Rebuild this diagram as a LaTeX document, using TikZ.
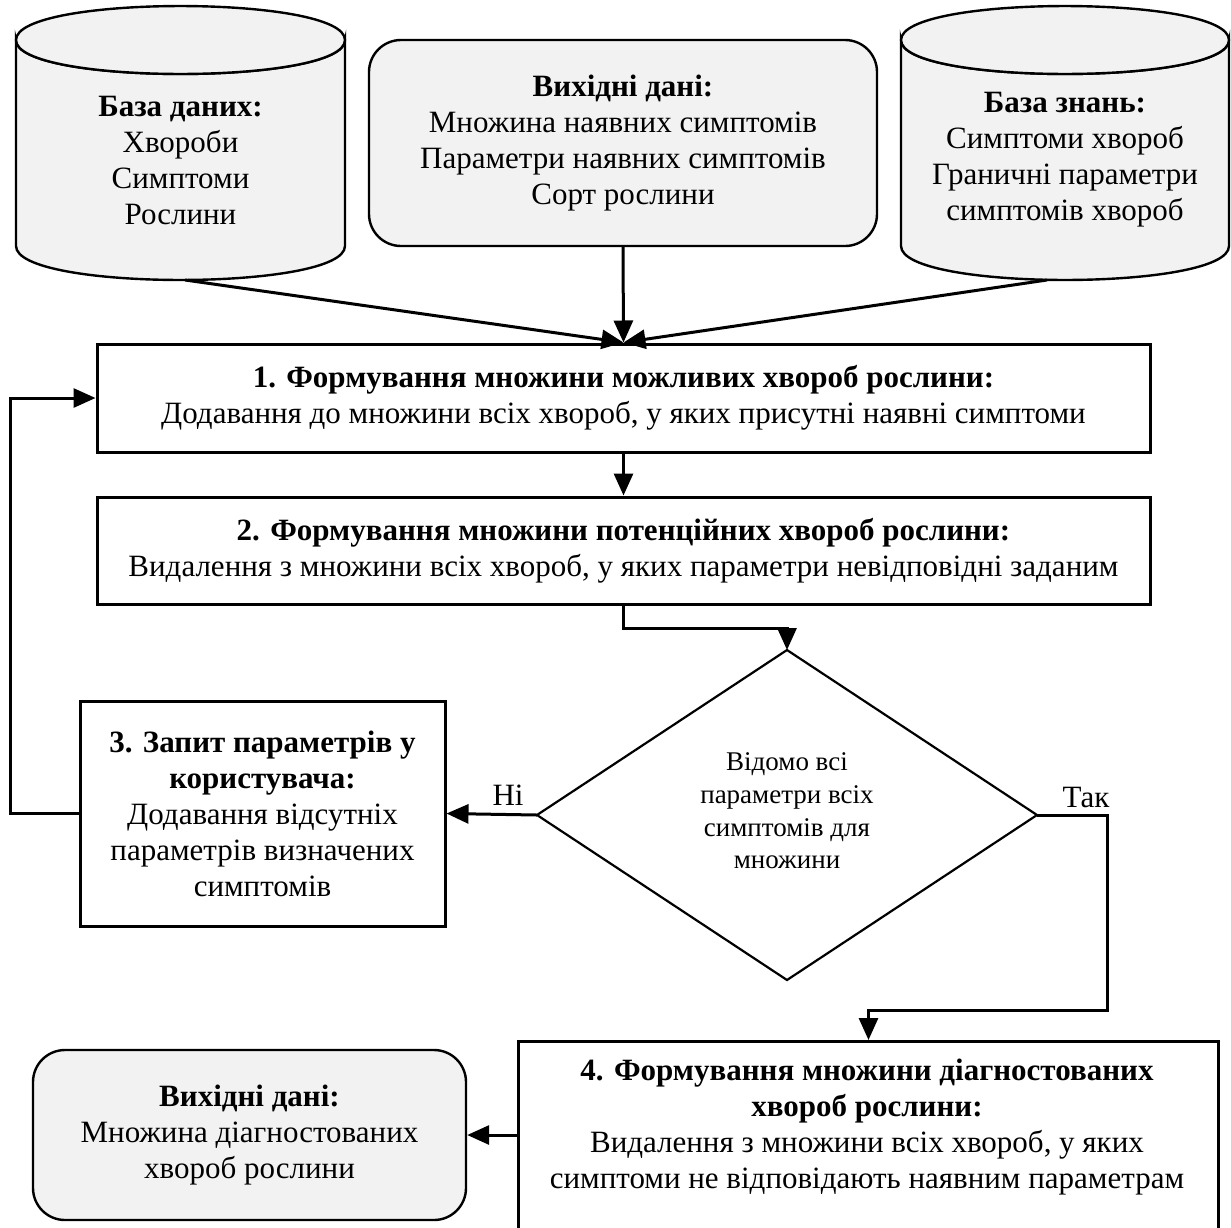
\documentclass[tikz,border=0pt]{standalone}
\usepackage{fontspec}
\setmainfont{Liberation Serif}
\usetikzlibrary{arrows.meta,calc}
\definecolor{boxgray}{HTML}{F2F2F2}
\begin{document}
\begin{tikzpicture}[x=0.5pt,y=-0.5pt,
  every node/.style={font=\fontsize{15.5}{18}\selectfont, align=center, inner sep=0pt},
  procbox/.style={draw, line width=1.5pt, rectangle, fill=white},
  roundbox/.style={draw, line width=1.2pt, rounded corners=16pt, fill=boxgray},
  cylshape/.style={draw, line width=1.2pt, fill=boxgray},
  arr/.style={line width=1.5pt, -{Triangle[length=11pt,width=9.5pt]}},
  lbl/.style={font=\fontsize{15.5}{18}\selectfont}
]
\useasboundingbox (0,0) rectangle (1231,1227);
\clip (0,0) rectangle (1231,1227);

% Cylinder 1
\path[cylshape] (16,40) -- (16,246) .. controls (16,291.3) and (345,291.3) .. (345,246) -- (345,40)
  .. controls (345,85.3) and (16,85.3) .. (16,40) -- cycle;
\path[cylshape] (16,40) .. controls (16,-5.3) and (345,-5.3) .. (345,40)
  .. controls (345,85.3) and (16,85.3) .. (16,40) -- cycle;
\node (cyl1) at (180.5,160) {\textbf{База даних:}\\Хвороби\\Симптоми\\Рослини};
\coordinate (cyl1b) at (185,280);

% Cylinder 2
\path[cylshape] (901,40) -- (901,246) .. controls (901,291.3) and (1229,291.3) .. (1229,246) -- (1229,40)
  .. controls (1229,85.3) and (901,85.3) .. (901,40) -- cycle;
\path[cylshape] (901,40) .. controls (901,-5.3) and (1229,-5.3) .. (1229,40)
  .. controls (1229,85.3) and (901,85.3) .. (901,40) -- cycle;
\node (cyl2) at (1065,160) {\textbf{База знань:}\\Симптоми хвороб\\Граничні параметри\\симптомів хвороб};
\coordinate (cyl2b) at (1047,280);

% Input box
\node[roundbox, minimum width=254pt, minimum height=103pt] (inbox) at (623,143)
  {\textbf{Вихідні дані:}\\Множина наявних симптомів\\Параметри наявних симптомів\\Сорт рослини};

% Box 1
\node[procbox, minimum width=526.5pt, minimum height=54pt] (box1) at (623.5,398)
  {\textbf{1. Формування множини можливих хвороб рослини:}\\Додавання до множини всіх хвороб, у яких присутні наявні симптоми};

% Box 2
\node[procbox, minimum width=526.5pt, minimum height=53.5pt] (box2) at (623.5,550.5)
  {\textbf{2. Формування множини потенційних хвороб рослини:}\\Видалення з множини всіх хвороб, у яких параметри невідповідні заданим};

% Diamond
\coordinate (dT) at (787,650);
\coordinate (dR) at (1037,815);
\coordinate (dB) at (787,980);
\coordinate (dL) at (537,815);
\draw[line width=1.1pt] (dT) -- (dR) -- (dB) -- (dL) -- cycle;
\node[font=\fontsize{13.5}{16.3}\selectfont] (dtext) at (787,811)
  {Відомо всі\\параметри всіх\\симптомів для\\множини};

% Box 3
\node[procbox, minimum width=182.5pt, minimum height=112.5pt] (box3) at (262.5,813.5)
  {\textbf{3. Запит параметрів у}\\\textbf{користувача:}\\Додавання відсутніх\\параметрів визначених\\симптомів};

% Box 4
\node[procbox, anchor=north west, minimum width=350pt, minimum height=110pt] (box4) at (517,1040) {};
\node (box4txt) at (867,1127)
  {\textbf{4. Формування множини діагностованих}\\\textbf{хвороб рослини:}\\Видалення з множини всіх хвороб, у яких\\симптоми не відповідають наявним параметрам};

% Output box
\node[roundbox, minimum width=216.5pt, minimum height=85pt] (outbox) at (249.5,1135)
  {\textbf{Вихідні дані:}\\Множина діагностованих\\хвороб рослини};

% Connectors
\draw[arr] (cyl1b) -- (box1.north);
\draw[arr] (cyl2b) -- (box1.north);
\draw[arr] (inbox.south) -- (box1.north);
\draw[arr] (box1.south) -- (box2.north);
\draw[arr] (box2.south) -- ++(0,23) -| (dT);
\draw[arr] (dL) -- (box3.east);
\node[lbl] (no) at (508,795) {Ні};
\draw[arr] (box3.west) -- ++(-68,0) |- (box1.west);
\coordinate (tr1) at (1107,1010);
\draw[arr] (dR) -| (tr1) -| (box4.north);
\node[lbl] (yes) at (1086,797) {Так};
\draw[arr] (box4.west |- outbox.east) -- (outbox.east);
\end{tikzpicture}
\end{document}
